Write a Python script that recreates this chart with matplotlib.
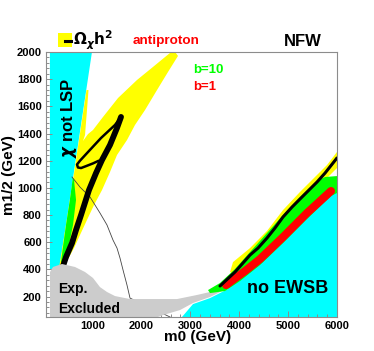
import matplotlib
matplotlib.use('Agg')
import matplotlib.pyplot as plt
from matplotlib.patches import Polygon, Rectangle
from matplotlib.lines import Line2D

plt.rcParams['font.family'] = 'Liberation Sans'
plt.rcParams['font.weight'] = 'bold'
plt.rcParams['mathtext.fontset'] = 'dejavusans'

# all regions in (m0, m1/2) GeV
not_lsp_m0 = [130, 990, 322, 130]
not_lsp_m12 = [2000, 2000, 400, 400]

no_ewsb_m0 = [2831, 3056, 3404, 3772, 4017, 4426, 4897, 5387, 5858, 6000, 6000]
no_ewsb_m12 = [50, 145, 189, 256, 329, 454, 616, 800, 962, 1014, 50]

excl_m0 = [132, 132, 193, 377, 643, 848, 1011, 1154, 1297, 1461, 1768, 2729, 3138,
           3404, 3670, 3792, 3772, 3404, 3056, 2790, 2443, 2340]
excl_m12 = [50, 381, 418, 440, 418, 381, 337, 270, 234, 204, 182, 182, 212,
            234, 270, 285, 263, 197, 153, 101, 64, 50]

# relic density band, focus-point branch on the left
omega_left_m0 = [2690, 2749, 2545, 2320, 2075, 1870, 1706, 1502, 1359, 1195, 1032, 888,
                 745, 623, 479, 398, 316, 541, 694, 848, 878, 919, 888, 848, 807,
                 909, 1011, 1216, 1522, 1911, 2238, 2586]
omega_left_m12 = [2000, 1971, 1853, 1720, 1573, 1463, 1352, 1242, 1117, 984, 874, 764,
                  653, 557, 462, 425, 410, 911, 1279, 1647, 1720, 1720, 1573, 1389, 1345,
                  1396, 1426, 1522, 1661, 1794, 1890, 1993]

omega_right_m0 = [3874, 4222, 4569, 4897, 5244, 5592, 5796, 6000,
                  6000, 5592, 5244, 4897, 4569, 4222, 3915, 3813]
omega_right_m12 = [454, 557, 683, 837, 970, 1095, 1168, 1264,
                   1146, 999, 874, 749, 594, 469, 359, 381]

# WMAP contour (black)
wmap_m0 = [1584, 1502, 1359, 1195, 1073, 929, 766, 664, 582, 459, 398]
wmap_m12 = [1522, 1441, 1316, 1205, 1109, 984, 800, 690, 594, 491, 425]
hook_m0 = [1584, 1461, 1175, 909, 745, 684, 704, 766, 868, 1010, 1130]
hook_m12 = [1522, 1463, 1367, 1264, 1200, 1172, 1150, 1146, 1160, 1180, 1200]
wmap_r_m0 = [3608, 3915, 4222, 4385, 4569, 4733, 4897, 5081, 5244, 5408, 5592, 5756, 5919, 6000]
wmap_r_m12 = [278, 381, 506, 557, 631, 705, 786, 859, 918, 977, 1043, 1109, 1183, 1220]

# antiproton reach, b=10 (green) and b=1 (red)
b10_left_m0 = [598, 537, 459, 389, 357, 418, 500, 602, 664, 623]
b10_left_m12 = [1073, 911, 727, 543, 454, 454, 543, 727, 911, 1058]
b10_right_m0 = [3363, 3608, 3915, 4222, 4569, 4897, 5244, 5592, 5756, 6000,
                6000, 5878, 5387, 4897, 4426, 4017, 3711, 3404]
b10_right_m12 = [248, 300, 403, 528, 668, 800, 933, 1051, 1080, 1087,
                 962, 940, 771, 594, 432, 314, 241, 226]
b1_m0 = [3731, 4120, 4426, 4897, 5387, 5878]
b1_m12 = [285, 388, 476, 638, 815, 977]

# thin contour
thin_m0 = [582, 745, 950, 1154, 1297, 1420, 1502, 1563, 1625, 1706, 1768, 2586]
thin_m12 = [1080, 1006, 933, 815, 727, 616, 557, 484, 396, 285, 189, 50]

CYAN = '#00ffff'
YELLOW = '#ffff00'
GREEN = '#00ff00'
RED = '#ff0000'
GREY = '#cccccc'
FRAME = '#8c8c8c'

fig = plt.figure(figsize=(3.74, 3.51), dpi=100)
ax = fig.add_axes([0.123, 0.0969, 0.778, 0.755])

def poly(xs, ys, color, z):
    ax.add_patch(Polygon(list(zip(xs, ys)), closed=True, facecolor=color,
                         edgecolor='none', zorder=z))

poly(not_lsp_m0, not_lsp_m12, CYAN, 1)
poly(no_ewsb_m0, no_ewsb_m12, CYAN, 1)
poly(omega_left_m0, omega_left_m12, YELLOW, 2)
poly(b10_left_m0, b10_left_m12, GREEN, 2.1)
ax.plot(thin_m0, thin_m12, color='#444444', lw=0.6, zorder=2.2)
ax.plot(wmap_m0, wmap_m12, color='black', lw=4.2, solid_capstyle='round',
        solid_joinstyle='round', zorder=2.3)
ax.plot(hook_m0, hook_m12, color='black', lw=1.8, solid_capstyle='round',
        solid_joinstyle='round', zorder=2.3)
poly(excl_m0, excl_m12, GREY, 3)
poly(omega_right_m0, omega_right_m12, YELLOW, 4)
poly(b10_right_m0, b10_right_m12, GREEN, 4.1)
ax.plot(b1_m0, b1_m12, color=RED, lw=5.8, solid_capstyle='round',
        solid_joinstyle='round', zorder=4.2)
ax.plot(wmap_r_m0, wmap_r_m12, color='black', lw=2.2, solid_capstyle='round',
        solid_joinstyle='round', zorder=4.3)

ax.set_xlim(50, 6000)
ax.set_ylim(50, 2000)
ax.set_xticks(range(1000, 6001, 1000))
ax.set_xticks(range(200, 6001, 200), minor=True)
ax.set_yticks(range(200, 2001, 200))
ax.set_yticks(range(80, 2001, 40), minor=True)
ax.tick_params(which='both', direction='in', color=FRAME, top=False, right=False,
               labelsize=8, pad=3)
ax.tick_params(which='major', length=4.3, width=0.7)
ax.tick_params(which='minor', length=2.2, width=0.7)
for s in ax.spines.values():
    s.set_color(FRAME)
    s.set_linewidth(0.8)
    s.set_zorder(6)

fig.text(0.024, 0.501, 'm1/2 (GeV)', rotation=90, ha='center', va='center', fontsize=11)
fig.text(0.527, 0.040, 'm0 (GeV)', ha='center', va='center', fontsize=11)

# header
fig.patches.append(Rectangle((0.155, 0.866), 0.0374, 0.040, transform=fig.transFigure,
                             facecolor=YELLOW, edgecolor='none'))
fig.lines.append(Line2D([0.174, 0.190], [0.882, 0.882], transform=fig.transFigure,
                        color='black', lw=2.2))
fig.text(0.195, 0.872, r'$\Omega_{\chi}\mathbf{h}^{\mathbf{2}}$', fontsize=11,
         va='baseline', ha='left')
fig.text(0.444, 0.876, 'antiproton', color=RED, fontsize=9.7, ha='center', va='baseline')
fig.text(0.810, 0.868, 'NFW', fontsize=12, ha='center', va='baseline')
fig.text(0.516, 0.792, 'b=10', color=GREEN, fontsize=9.5, ha='left', va='baseline')
fig.text(0.516, 0.744, 'b=1', color=RED, fontsize=9.5, ha='left', va='baseline')

fig.text(0.1845, 0.664, r'$\chi$ not LSP', rotation=90, fontsize=12, ha='center',
         va='center', zorder=7)
fig.text(0.660, 0.165, 'no EWSB', fontsize=13, ha='left', va='baseline', zorder=7)
fig.text(0.155, 0.165, 'Exp.', fontsize=10, ha='left', va='baseline', zorder=7)
fig.text(0.155, 0.108, 'Excluded', fontsize=10, ha='left', va='baseline', zorder=7)

fig.savefig('out.png', dpi=100)
